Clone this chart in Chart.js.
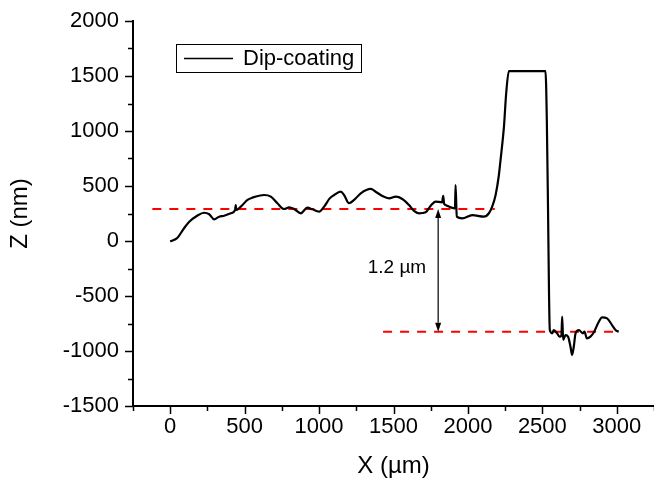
<!DOCTYPE html>
<html>
<head>
<meta charset="utf-8">
<script src="https://cdn.jsdelivr.net/npm/chart.js@4/dist/chart.umd.min.js"></script>
<style>
  html, body { margin: 0; padding: 0; background: #fff; }
  #wrap { width: 654px; height: 485px; position: relative; }
</style>
</head>
<body>
<div id="wrap"><canvas id="chart"></canvas></div>
<script>
// surface profile (X in µm, Z in nm)
const profileX = [0, 49, 94, 128, 181, 228, 262, 295, 329, 362, 407, 436, 440, 444, 474, 519, 552, 631, 676, 720,
  765, 799, 832, 877, 921, 955, 1000, 1034, 1070, 1101, 1145, 1168, 1201, 1235, 1280, 1347, 1380, 1425, 1470, 1515,
  1559, 1604, 1638, 1671, 1716, 1750, 1783, 1826, 1834, 1840, 1850, 1884, 1913, 1917, 1925, 1962, 2029, 2107, 2141, 2163,
  2186, 2208, 2219, 2242, 2257, 2275, 2521, 2530, 2538, 2545, 2550, 2566, 2577, 2599, 2615, 2628, 2633, 2640, 2656, 2673,
  2689, 2700, 2711, 2723, 2745, 2772, 2783, 2799, 2823, 2846, 2874, 2901, 2935, 2968, 2996, 3013];
const profileZ = [-5, 30, 118, 175, 230, 257, 243, 197, 221, 230, 252, 282, 327, 282, 312, 373, 394, 418, 403, 343,
  291, 306, 291, 252, 303, 288, 267, 312, 385, 418, 448, 418, 343, 373, 433, 473, 448, 409, 388, 403,
  382, 327, 273, 252, 261, 321, 358, 352, 410, 340, 327, 306, 297, 509, 221, 206, 236, 221, 252, 312,
  418, 600, 736, 1039, 1343, 1545, 1545, 1100, 300, -500, -810, -839, -809, -839, -870, -860, -688, -900, -855, -870,
  -961, -1036, -961, -839, -809, -839, -824, -885, -870, -830, -748, -694, -703, -764, -815, -824];

// reference levels and step marker
const upperLevel = 290;
const upperRange = [-120, 2180];
const lowerLevel = -825;
const lowerRange = [1430, 3025];
const arrowX = 1800;
const stepLabel = '1.2 \u00b5m';
const seriesName = 'Dip-coating';

const xRange = [-250, 3250];
const yRange = [-1500, 2000];
const tickStep = 250;
const labelStep = 500;

const FONT = 'Arial, "Liberation Sans", sans-serif';

const toPoints = (xs, ys) => xs.map((x, i) => ({ x: x, y: ys[i] }));

// Origin style outward ticks, long on labelled values, short in between
const originTicks = {
  id: 'originTicks',
  afterDraw(chart) {
    const ctx = chart.ctx;
    const { left, bottom } = chart.chartArea;
    ctx.save();
    ctx.strokeStyle = '#000';
    ctx.lineWidth = 1.5;
    ctx.beginPath();
    chart.scales.x.ticks.forEach(t => {
      const px = Math.round(chart.scales.x.getPixelForValue(t.value)) + 0.5;
      const len = t.value % labelStep === 0 ? 8 : 5;
      ctx.moveTo(px, bottom);
      ctx.lineTo(px, bottom + len);
    });
    chart.scales.y.ticks.forEach(t => {
      const py = Math.round(chart.scales.y.getPixelForValue(t.value)) + 0.5;
      const len = t.value % labelStep === 0 ? 8 : 5;
      ctx.moveTo(left, py);
      ctx.lineTo(left - len, py);
    });
    ctx.stroke();
    ctx.restore();
  }
};

// double arrow between the two levels plus its label
const stepArrow = {
  id: 'stepArrow',
  afterDatasetsDraw(chart) {
    const ctx = chart.ctx;
    const x = chart.scales.x.getPixelForValue(arrowX);
    const yTop = chart.scales.y.getPixelForValue(upperLevel);
    const yBot = chart.scales.y.getPixelForValue(lowerLevel);
    const head = 9, half = 3;
    ctx.save();
    ctx.strokeStyle = '#000';
    ctx.fillStyle = '#000';
    ctx.lineWidth = 1.2;
    ctx.beginPath();
    ctx.moveTo(x, yTop + head);
    ctx.lineTo(x, yBot - head);
    ctx.stroke();
    ctx.beginPath();
    ctx.moveTo(x, yTop);
    ctx.lineTo(x - half, yTop + head);
    ctx.lineTo(x + half, yTop + head);
    ctx.closePath();
    ctx.fill();
    ctx.beginPath();
    ctx.moveTo(x, yBot);
    ctx.lineTo(x - half, yBot - head);
    ctx.lineTo(x + half, yBot - head);
    ctx.closePath();
    ctx.fill();
    ctx.font = '19px ' + FONT;
    ctx.textAlign = 'right';
    ctx.textBaseline = 'middle';
    ctx.fillText(stepLabel, x - 12, (yTop + yBot) / 2 - 3);
    ctx.restore();
  }
};

// boxed legend in the upper left of the plot
const boxLegend = {
  id: 'boxLegend',
  afterDraw(chart) {
    const ctx = chart.ctx;
    const ds = chart.data.datasets[0];
    ctx.save();
    ctx.strokeStyle = '#000';
    ctx.lineWidth = 1;
    ctx.strokeRect(176.5, 44.5, 185, 28);
    ctx.lineWidth = 1.5;
    ctx.beginPath();
    ctx.moveTo(184, 58.5);
    ctx.lineTo(233, 58.5);
    ctx.stroke();
    ctx.fillStyle = '#000';
    ctx.font = '22px ' + FONT;
    ctx.textBaseline = 'middle';
    ctx.fillText(ds.label, 243, 59);
    ctx.restore();
  }
};

new Chart(document.getElementById('chart'), {
  type: 'line',
  data: {
    datasets: [
      {
        label: seriesName,
        data: toPoints(profileX, profileZ),
        borderColor: '#000',
        borderWidth: 2.2,
        pointRadius: 0,
        cubicInterpolationMode: 'monotone'
      },
      {
        label: 'upper level',
        data: toPoints(upperRange, [upperLevel, upperLevel]),
        borderColor: '#ff0000',
        borderWidth: 2,
        borderDash: [9, 8],
        pointRadius: 0
      },
      {
        label: 'lower level',
        data: toPoints(lowerRange, [lowerLevel, lowerLevel]),
        borderColor: '#ff0000',
        borderWidth: 2,
        borderDash: [9, 8],
        pointRadius: 0
      }
    ]
  },
  options: {
    responsive: true,
    maintainAspectRatio: false,
    animation: false,
    layout: { padding: { top: 21, right: 0, left: 0, bottom: 0 } },
    plugins: {
      legend: { display: false },
      tooltip: { enabled: false }
    },
    scales: {
      x: {
        type: 'linear',
        min: xRange[0],
        max: xRange[1],
        afterFit: s => { s.height = 79; s.paddingLeft = 0; s.paddingRight = 0; },
        grid: { display: false, drawTicks: false },
        border: { display: true, color: '#000', width: 2 },
        ticks: {
          stepSize: tickStep,
          autoSkip: false,
          maxRotation: 0,
          padding: 8,
          color: '#000',
          font: { family: FONT, size: 22 },
          callback: v => (v % labelStep === 0 ? String(v) : '')
        },
        title: {
          display: true,
          text: 'X (\u00b5m)',
          color: '#000',
          font: { family: FONT, size: 24 },
          padding: { top: 0, bottom: 4 }
        }
      },
      y: {
        type: 'linear',
        min: yRange[0],
        max: yRange[1],
        afterFit: s => { s.width = 133; s.paddingTop = 0; s.paddingBottom = 0; },
        grid: { display: false, drawTicks: false },
        border: { display: true, color: '#000', width: 2 },
        ticks: {
          stepSize: tickStep,
          autoSkip: false,
          padding: 14,
          color: '#000',
          font: { family: FONT, size: 22 },
          callback: v => (v % labelStep === 0 ? String(v) : '')
        },
        title: {
          display: true,
          text: 'Z (nm)',
          color: '#000',
          font: { family: FONT, size: 24 },
          padding: { top: 6, bottom: 0 }
        }
      }
    }
  },
  plugins: [originTicks, stepArrow, boxLegend]
});
</script>
</body>
</html>
